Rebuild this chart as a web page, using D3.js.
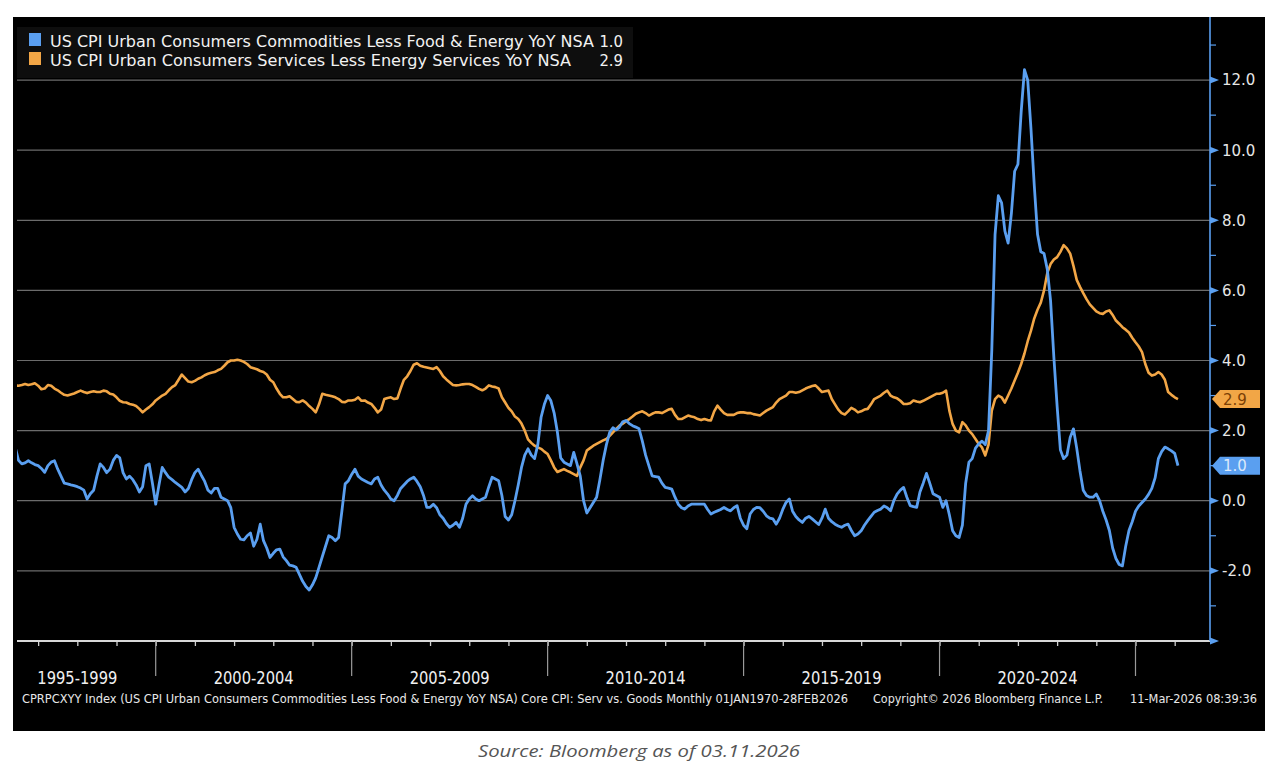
<!DOCTYPE html>
<html>
<head>
<meta charset="utf-8">
<script src="https://cdn.jsdelivr.net/npm/d3@7"></script>
<style>
  html, body { margin: 0; padding: 0; background: #ffffff; }
  svg { display: block; }
</style>
</head>
<body>
<svg id="chart" width="1282" height="770"></svg>
<script>
// ---------------- DATA ----------------
const startYear = 1996, startMonth = 6; // first observation: Jun 1996 (monthly through Feb 2026)
const seriesNames = [
  "US CPI Urban Consumers Commodities Less Food & Energy YoY NSA",
  "US CPI Urban Consumers Services Less Energy Services YoY NSA"
];
const lastValues = ["1.0", "2.9"];
const periodLabels = ["1995-1999", "2000-2004", "2005-2009", "2010-2014", "2015-2019", "2020-2024"];
const periodStarts = [1995, 2000, 2005, 2010, 2015, 2020];
const yTickValues = [-2, 0, 2, 4, 6, 8, 10, 12];
const yMinorValues = [-3, -1, 1, 3, 5, 7, 9, 11, 13];
const footerTexts = [
  "CPRPCXYY Index (US CPI Urban Consumers Commodities Less Food & Energy YoY NSA) Core CPI: Serv vs. Goods Monthly 01JAN1970-28FEB2026",
  "Copyright\u00A9 2026 Bloomberg Finance L.P.",
  "11-Mar-2026 08:39:36"
];
const sourceText = "Source: Bloomberg as of 03.11.2026";

// Core goods (commodities less food & energy) YoY, monthly from Jun 1996
const goodsYoY = [
  1.52, 1.15, 1.05, 1.08, 1.14, 1.08, 1.03,
  1.0, 0.92, 0.81, 1.0, 1.1, 1.14, 0.9, 0.7, 0.5, 0.48, 0.45, 0.43,
  0.4, 0.36, 0.3, 0.05, 0.2, 0.3, 0.7, 1.05, 0.95, 0.8, 0.9, 1.15,
  1.29, 1.22, 0.8, 0.62, 0.7, 0.6, 0.45, 0.25, 0.4, 1.0, 1.05, 0.5,
  -0.1, 0.45, 0.95, 0.8, 0.67, 0.6, 0.52, 0.45, 0.38, 0.25, 0.35, 0.6,
  0.8, 0.9, 0.72, 0.55, 0.3, 0.22, 0.35, 0.35, 0.1, 0.05, 0.0, -0.2,
  -0.76, -0.95, -1.1, -1.12, -1.0, -0.92, -1.3, -1.1, -0.67, -1.14, -1.35, -1.62,
  -1.5, -1.4, -1.38, -1.6, -1.71, -1.84, -1.86, -1.9, -2.1, -2.3, -2.45, -2.55,
  -2.4, -2.2, -1.9, -1.6, -1.3, -1.0, -1.05, -1.14, -1.05, -0.3, 0.48, 0.57,
  0.75, 0.9, 0.7, 0.62, 0.57, 0.52, 0.48, 0.62, 0.67, 0.45, 0.3, 0.19,
  0.05, 0.0, 0.15, 0.35, 0.45, 0.55, 0.62, 0.67, 0.55, 0.4, 0.15, -0.19,
  -0.19, -0.1, -0.2, -0.4, -0.5, -0.65, -0.76, -0.7, -0.62, -0.76, -0.5, -0.1,
  0.05, 0.14, 0.05, 0.0, 0.05, 0.1, 0.4, 0.67, 0.62, 0.57, 0.15, -0.45,
  -0.55, -0.4, 0.0, 0.45, 0.95, 1.3, 1.48, 1.3, 1.2, 1.6, 2.38, 2.75,
  3.0, 2.85, 2.5, 1.95, 1.22, 1.1, 1.05, 1.0, 1.38, 1.05, 0.7, 0.0,
  -0.35, -0.2, -0.05, 0.1, 0.6, 1.15, 1.6, 1.95, 2.08, 2.02, 2.1, 2.25,
  2.29, 2.2, 2.14, 2.1, 2.05, 1.7, 1.3, 1.0, 0.71, 0.69, 0.67, 0.5,
  0.38, 0.36, 0.33, 0.1, -0.1, -0.2, -0.24, -0.15, -0.1, -0.1, -0.1, -0.1,
  -0.1, -0.25, -0.38, -0.33, -0.29, -0.25, -0.19, -0.25, -0.29, -0.2, -0.14, -0.5,
  -0.7, -0.8, -0.38, -0.25, -0.19, -0.2, -0.3, -0.43, -0.5, -0.52, -0.67, -0.5,
  -0.25, -0.05, 0.05, -0.3, -0.45, -0.55, -0.62, -0.5, -0.45, -0.52, -0.6, -0.68,
  -0.5, -0.24, -0.5, -0.6, -0.67, -0.72, -0.76, -0.7, -0.67, -0.85, -1.0, -0.95,
  -0.86, -0.7, -0.57, -0.45, -0.33, -0.28, -0.24, -0.15, -0.2, -0.29, 0.0, 0.19,
  0.3, 0.38, 0.1, -0.14, -0.17, -0.19, 0.25, 0.5, 0.78, 0.5, 0.2, 0.15,
  0.1, -0.19, 0.0, -0.4, -0.86, -1.0, -1.05, -0.7, 0.5, 1.1, 1.2, 1.5,
  1.62, 1.7, 1.6, 2.0, 4.3, 7.6, 8.7, 8.5, 7.7, 7.35, 8.2, 9.4,
  9.6, 11.1, 12.3, 12.0, 10.6, 9.0, 7.6, 7.1, 7.05, 6.6, 5.7, 4.1,
  2.7, 1.45, 1.2, 1.3, 1.8, 2.05, 1.5, 0.85, 0.3, 0.15, 0.1, 0.1,
  0.19, 0.0, -0.3, -0.55, -0.85, -1.35, -1.65, -1.82, -1.86, -1.3, -0.85, -0.6,
  -0.3, -0.15, -0.05, 0.05, 0.18, 0.35, 0.65, 1.2, 1.4, 1.53, 1.48, 1.42,
  1.35, 1.0
];

// Core services (services less energy services) YoY, monthly from Jun 1996
const servicesYoY = [
  3.29, 3.28, 3.3, 3.33, 3.3, 3.32, 3.35,
  3.28, 3.18, 3.2, 3.3, 3.28, 3.2, 3.15, 3.08, 3.02, 3.0, 3.03, 3.06,
  3.1, 3.14, 3.1, 3.07, 3.1, 3.12, 3.1, 3.1, 3.14, 3.12, 3.05, 3.03,
  2.95, 2.85, 2.81, 2.8, 2.76, 2.74, 2.7, 2.62, 2.52, 2.6, 2.67, 2.75,
  2.86, 2.93, 3.0, 3.05, 3.15, 3.24, 3.3, 3.45, 3.6, 3.5, 3.4, 3.38,
  3.42, 3.48, 3.52, 3.58, 3.62, 3.65, 3.67, 3.72, 3.76, 3.85, 3.95, 4.0,
  4.0, 4.02, 4.0, 3.96, 3.9, 3.81, 3.78, 3.75, 3.7, 3.67, 3.6, 3.45,
  3.38, 3.2, 3.05, 2.95, 2.95, 2.98, 2.9, 2.82, 2.81, 2.86, 2.8, 2.7,
  2.62, 2.52, 2.75, 3.05, 3.02, 3.0, 2.98, 2.95, 2.9, 2.82, 2.81, 2.86,
  2.86, 2.88, 2.95, 2.85, 2.86, 2.8, 2.76, 2.65, 2.52, 2.6, 2.9, 2.93,
  2.95, 2.9, 2.92, 3.2, 3.45, 3.55, 3.7, 3.88, 3.92, 3.85, 3.82, 3.8,
  3.78, 3.76, 3.81, 3.7, 3.55, 3.46, 3.38, 3.3, 3.29, 3.3, 3.32, 3.33,
  3.33, 3.3, 3.25, 3.19, 3.15, 3.2, 3.29, 3.26, 3.24, 3.2, 2.95, 2.8,
  2.65, 2.55, 2.4, 2.33, 2.2, 2.0, 1.75, 1.65, 1.57, 1.52, 1.48, 1.4,
  1.33, 1.15, 0.95, 0.82, 0.86, 0.9, 0.85, 0.81, 0.76, 0.71, 0.95, 1.15,
  1.43, 1.5, 1.57, 1.62, 1.67, 1.72, 1.76, 1.85, 1.95, 2.05, 2.14, 2.2,
  2.27, 2.33, 2.4, 2.48, 2.52, 2.55, 2.5, 2.43, 2.48, 2.52, 2.52, 2.5,
  2.55, 2.6, 2.62, 2.45, 2.33, 2.33, 2.38, 2.43, 2.4, 2.38, 2.33, 2.3,
  2.33, 2.3, 2.29, 2.55, 2.71, 2.6, 2.5, 2.45, 2.45, 2.45, 2.5, 2.52,
  2.52, 2.5, 2.5, 2.47, 2.45, 2.43, 2.5, 2.57, 2.62, 2.67, 2.8, 2.9,
  2.95, 3.0, 3.1, 3.1, 3.08, 3.1, 3.15, 3.2, 3.24, 3.27, 3.29, 3.2,
  3.1, 3.12, 3.14, 2.9, 2.75, 2.6, 2.5, 2.46, 2.55, 2.65, 2.6, 2.52,
  2.55, 2.6, 2.62, 2.75, 2.9, 2.95, 3.0, 3.08, 3.14, 3.0, 2.95, 2.92,
  2.85, 2.76, 2.76, 2.78, 2.86, 2.83, 2.81, 2.85, 2.9, 2.95, 3.0, 3.05,
  3.05, 3.08, 3.14, 2.57, 2.19, 2.0, 1.95, 2.24, 2.15, 2.0, 1.9, 1.76,
  1.62, 1.52, 1.29, 1.6, 2.57, 2.9, 3.0, 2.95, 2.8, 3.0, 3.2, 3.43,
  3.65, 3.9, 4.2, 4.55, 4.85, 5.2, 5.45, 5.65, 6.0, 6.5, 6.75, 6.88,
  6.95, 7.1, 7.29, 7.2, 7.05, 6.7, 6.3, 6.1, 5.92, 5.75, 5.6, 5.5,
  5.4, 5.35, 5.33, 5.4, 5.43, 5.3, 5.14, 5.05, 4.95, 4.88, 4.8, 4.65,
  4.52, 4.4, 4.24, 3.9, 3.65, 3.57, 3.6, 3.67, 3.6, 3.45, 3.1, 3.02,
  2.95, 2.9
];

// ---------------- DRAW ----------------
const BLUE = "#5a9ff0", ORANGE = "#f2a646";
const svg = d3.select("#chart");
const W = 1282, H = 770;

svg.append("rect").attr("width", W).attr("height", H).attr("fill", "#ffffff");
// black terminal panel
svg.append("rect").attr("x", 13).attr("y", 17).attr("width", 1252).attr("height", 714).attr("fill", "#000000");

const plotLeft = 17, plotRight = 1210, plotTop = 17, axisY = 641;
const x = d3.scaleLinear().domain([2000, 2025]).range([155.7, 1135.5]);
const y = d3.scaleLinear().domain([-4, 12]).range([640.9, 80.1]);

const toT = i => startYear + (startMonth - 1 + i) / 12;
const goodsData = goodsYoY.map((v, i) => ({ t: toT(i), v }));
const servData = servicesYoY.map((v, i) => ({ t: toT(i), v }));

// gridlines
svg.append("g").selectAll("line").data(yTickValues).join("line")
  .attr("x1", plotLeft).attr("x2", plotRight)
  .attr("y1", d => y(d)).attr("y2", d => y(d))
  .attr("stroke", "#6b6b6b").attr("stroke-width", 1.2);

// legend box
const lg = svg.append("g");
lg.append("rect").attr("x", 17).attr("y", 27).attr("width", 616).attr("height", 51).attr("fill", "#0e0e0e");
lg.append("rect").attr("x", 29).attr("y", 33).attr("width", 12).attr("height", 13).attr("fill", BLUE);
lg.append("rect").attr("x", 29).attr("y", 52).attr("width", 12).attr("height", 13).attr("fill", ORANGE);
const legFont = "'Liberation Sans Narrow', 'DejaVu Sans Condensed', 'Arial Narrow', sans-serif";
const legWidths = [544, 521];
seriesNames.forEach((s, i) => {
  lg.append("text").attr("x", 50).attr("y", 47 + i * 19)
    .attr("fill", "#f2f2f2").attr("font-family", legFont).attr("font-size", 16.5)
    .attr("textLength", legWidths[i]).attr("lengthAdjust", "spacingAndGlyphs")
    .text(s);
  lg.append("text").attr("x", 623).attr("y", 47 + i * 19).attr("text-anchor", "end")
    .attr("fill", "#f2f2f2").attr("font-family", legFont).attr("font-size", 16.5)
    .text(lastValues[i]);
});

// clip for lines
svg.append("clipPath").attr("id", "clip").append("rect")
  .attr("x", plotLeft).attr("y", plotTop).attr("width", plotRight - plotLeft).attr("height", axisY - plotTop);

const line = d3.line().x(d => x(d.t)).y(d => y(d.v)).curve(d3.curveLinear);
const lines = svg.append("g").attr("clip-path", "url(#clip)");
lines.append("path").datum(servData).attr("d", line)
  .attr("fill", "none").attr("stroke", ORANGE).attr("stroke-width", 2.6).attr("stroke-linejoin", "round");
lines.append("path").datum(goodsData).attr("d", line)
  .attr("fill", "none").attr("stroke", BLUE).attr("stroke-width", 2.8).attr("stroke-linejoin", "round");

// x axis (year ticks)
const years = d3.range(1997, 2027);
const xAxis = d3.axisBottom(x).tickValues(years).tickSize(5).tickFormat("");
const xg = svg.append("g").attr("transform", `translate(0,${axisY})`).call(xAxis);
xg.select(".domain").remove();
xg.selectAll(".tick line").attr("stroke", "#cfcfcf").attr("stroke-width", 1.3);
svg.append("line").attr("x1", plotLeft).attr("x2", plotRight).attr("y1", axisY).attr("y2", axisY)
  .attr("stroke", "#d8d8d8").attr("stroke-width", 2);

// period dividers
const dividers = periodStarts.slice(1).concat([2025]);
svg.append("g").selectAll("line").data(dividers).join("line")
  .attr("x1", d => x(d)).attr("x2", d => x(d))
  .attr("y1", axisY).attr("y2", 676)
  .attr("stroke", "#9a9a9a").attr("stroke-width", 1.2);

// period labels
const firstT = toT(0);
const perFont = "'Liberation Sans Narrow', 'DejaVu Sans Condensed', sans-serif";
svg.append("g").selectAll("text").data(periodLabels).join("text")
  .attr("x", (d, i) => {
    const a = Math.max(periodStarts[i], Math.floor(firstT));
    return (x(a) + x(periodStarts[i] + 5)) / 2;
  })
  .attr("y", 684).attr("text-anchor", "middle")
  .attr("fill", "#f0f0f0").attr("font-family", perFont).attr("font-size", 18)
  .attr("textLength", 80).attr("lengthAdjust", "spacingAndGlyphs")
  .text(d => d);

// right axis
svg.append("line").attr("x1", plotRight).attr("x2", plotRight).attr("y1", plotTop).attr("y2", axisY)
  .attr("stroke", BLUE).attr("stroke-width", 1.6);
// minor ticks
svg.append("g").selectAll("line").data(yMinorValues).join("line")
  .attr("x1", plotRight).attr("x2", plotRight + 6)
  .attr("y1", d => y(d)).attr("y2", d => y(d))
  .attr("stroke", BLUE).attr("stroke-width", 1.2);
// triangle markers for major ticks (including axis end at -4)
svg.append("g").selectAll("path").data(yTickValues.concat([-4])).join("path")
  .attr("d", d => `M${plotRight},${y(d) - 3.5}L${plotRight + 9},${y(d)}L${plotRight},${y(d) + 3.5}Z`)
  .attr("fill", BLUE);

const yAxis = d3.axisRight(y).tickValues(yTickValues).tickSize(0).tickPadding(12)
  .tickFormat(d => d.toFixed(1));
const yg = svg.append("g").attr("transform", `translate(${plotRight},0)`).call(yAxis);
yg.select(".domain").remove();
yg.selectAll("text").attr("fill", "#e6e6e6").attr("font-size", 15)
  .attr("font-family", "'DejaVu Sans', Verdana, sans-serif");

// last value tags
const tags = [
  { v: servicesYoY[servicesYoY.length - 1], label: lastValues[1], fill: ORANGE, text: "#7a3f05" },
  { v: goodsYoY[goodsYoY.length - 1], label: lastValues[0], fill: BLUE, text: "#dce9fa" }
];
const tg = svg.append("g");
tags.forEach(tg_ => {
  const cy = y(tg_.v);
  tg.append("path")
    .attr("d", `M${plotRight + 2},${cy}L${plotRight + 10},${cy - 9}L${plotRight + 50},${cy - 9}L${plotRight + 50},${cy + 9}L${plotRight + 10},${cy + 9}Z`)
    .attr("fill", tg_.fill);
  tg.append("text").attr("x", plotRight + 13).attr("y", cy + 5.5)
    .attr("fill", tg_.text).attr("font-size", 15)
    .attr("font-family", "'DejaVu Sans', Verdana, sans-serif")
    .text(tg_.label);
});

// footer
const footFont = "'Liberation Sans Narrow', 'DejaVu Sans Condensed', sans-serif";
const footX = [22, 873, 1130], footW = [826, 230, 127];
footerTexts.forEach((t, i) => {
  svg.append("text").attr("x", footX[i]).attr("y", 703)
    .attr("fill", "#e8e8e8").attr("font-family", footFont).attr("font-size", 12)
    .attr("textLength", footW[i]).attr("lengthAdjust", "spacingAndGlyphs")
    .text(t);
});

// source
svg.append("text").attr("x", 639).attr("y", 757).attr("text-anchor", "middle")
  .attr("fill", "#555555").attr("font-family", "'Open Sans', Lato, sans-serif")
  .attr("font-style", "italic").attr("font-size", 17)
  .attr("textLength", 322).attr("lengthAdjust", "spacingAndGlyphs")
  .text(sourceText);
</script>
</body>
</html>
